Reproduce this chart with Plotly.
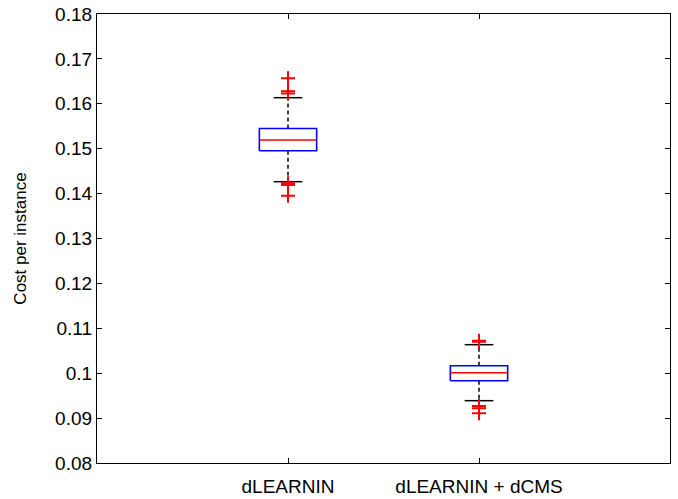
import plotly.graph_objects as go

categories = ["dLEARNIN", "dLEARNIN + dCMS"]
q1 = [0.14955, 0.09833]
median = [0.15194, 0.10011]
q3 = [0.15450, 0.10167]
lower_whisker = [0.14265, 0.09388]
upper_whisker = [0.16136, 0.10635]
outliers = [
    [0.1657, 0.1628, 0.1623, 0.1423, 0.1419, 0.1395],
    [0.1072, 0.1070, 0.0927, 0.0922, 0.0911],
]
y_ticks = [0.08, 0.09, 0.10, 0.11, 0.12, 0.13, 0.14, 0.15, 0.16, 0.17, 0.18]
y_ticktext = ["0.08", "0.09", "0.1", "0.11", "0.12", "0.13", "0.14", "0.15", "0.16", "0.17", "0.18"]

BOX_HALF = 0.15
CAP_HALF = 0.075

fig = go.Figure()
positions = [i + 1 for i in range(len(categories))]
for i, x in enumerate(positions):
    # whiskers (dashed)
    fig.add_trace(go.Scatter(x=[x, x], y=[q3[i], upper_whisker[i]], mode="lines",
                             line=dict(color="black", width=1.5, dash="4px,3px"),
                             showlegend=False, hoverinfo="skip"))
    fig.add_trace(go.Scatter(x=[x, x], y=[q1[i], lower_whisker[i]], mode="lines",
                             line=dict(color="black", width=1.5, dash="4px,3px"),
                             showlegend=False, hoverinfo="skip"))
    # caps
    for v in (upper_whisker[i], lower_whisker[i]):
        fig.add_trace(go.Scatter(x=[x - CAP_HALF, x + CAP_HALF], y=[v, v], mode="lines",
                                 line=dict(color="black", width=1.5),
                                 showlegend=False, hoverinfo="skip"))
    # box
    fig.add_trace(go.Scatter(x=[x - BOX_HALF, x + BOX_HALF, x + BOX_HALF, x - BOX_HALF, x - BOX_HALF],
                             y=[q1[i], q1[i], q3[i], q3[i], q1[i]], mode="lines",
                             line=dict(color="#0000ff", width=1.6),
                             showlegend=False, hoverinfo="skip"))
    # median
    fig.add_trace(go.Scatter(x=[x - BOX_HALF, x + BOX_HALF], y=[median[i], median[i]], mode="lines",
                             line=dict(color="#ff0000", width=1.6),
                             showlegend=False, hoverinfo="skip"))
    # outliers
    fig.add_trace(go.Scatter(x=[x] * len(outliers[i]), y=outliers[i], mode="markers",
                             marker=dict(symbol="cross-thin", size=10,
                                         line=dict(color="#ff0000", width=2)),
                             showlegend=False))

fig.update_layout(
    width=678, height=499,
    margin=dict(l=97, r=8, t=14, b=36),
    paper_bgcolor="white", plot_bgcolor="white",
    font=dict(family="Liberation Sans, Arial, sans-serif", color="black", size=18),
)
fig.update_xaxes(range=[0, 3], tickvals=positions, ticktext=categories,
                 ticks="inside", ticklen=5, tickcolor="black", tickwidth=1,
                 showline=True, linecolor="black", linewidth=1.2, mirror="allticks",
                 showgrid=False, zeroline=False, tickfont=dict(size=19), automargin=False,
                 ticklabelstandoff=6)
fig.update_yaxes(range=[0.08, 0.18], tickvals=y_ticks, ticktext=y_ticktext,
                 ticks="inside", ticklen=5, tickcolor="black", tickwidth=1,
                 showline=True, linecolor="black", linewidth=1.2, mirror="allticks",
                 showgrid=False, zeroline=False, tickfont=dict(size=19), automargin=False,
                 title=dict(text="Cost per instance", font=dict(size=17), standoff=24))

fig.write_html("out.html", config={"displayModeBar": False},
               post_script="document.body.style.margin='0';document.body.style.overflow='hidden';")
